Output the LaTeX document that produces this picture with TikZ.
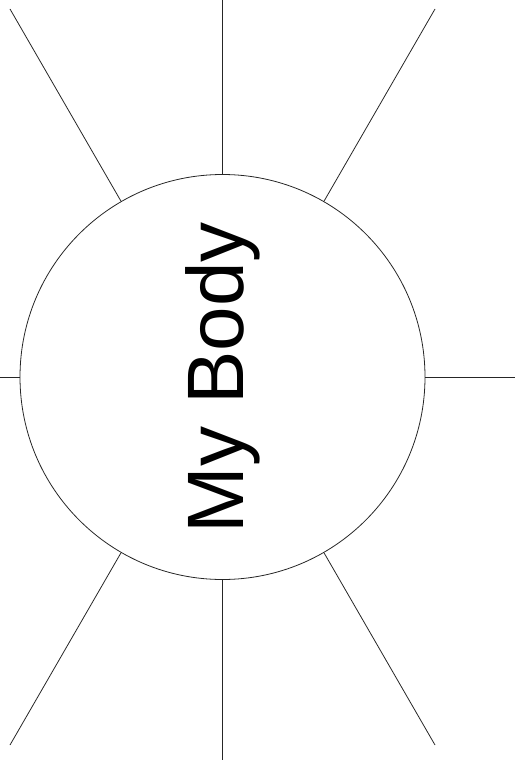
\documentclass[tikz,border=0pt]{standalone}
\usepackage{fontspec}
\setmainfont{Liberation Sans}
\begin{document}
\begin{tikzpicture}[x=1pt,y=-1pt,
  ray/.style={draw=black!85,line width=0.8pt},
  hub/.style={circle,draw=black!85,line width=0.8pt,minimum size=405pt,inner sep=0pt}]
\useasboundingbox (0,0) rectangle (515,760);
\node[hub] (c) at (222.5,377) {};
\coordinate (t) at (222.5,0);
\coordinate (b) at (222.5,760);
\coordinate (l) at (0,377);
\coordinate (r) at (515,377);
\coordinate (tl) at (10,9);
\coordinate (tr) at (435,9);
\coordinate (bl) at (10,745);
\coordinate (br) at (435,745);
\foreach \p in {t,b,l,r,tl,tr,bl,br} \draw[ray] (c) -- (\p);
\node[rotate=90,anchor=base,inner sep=0pt,font=\fontsize{80}{80}\selectfont] (title) at (243,378) {My Body};
\end{tikzpicture}
\end{document}
